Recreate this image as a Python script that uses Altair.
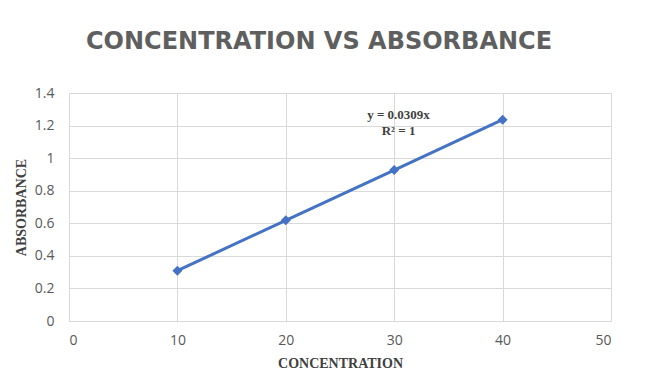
import altair as alt
import pandas as pd

concentration = [10, 20, 30, 40]
absorbance = [0.309, 0.618, 0.927, 1.236]
x_ticks = [0, 10, 20, 30, 40, 50]
y_ticks = [0, 0.2, 0.4, 0.6, 0.8, 1.0, 1.2, 1.4]
eq_lines = ["y = 0.0309x", "R² = 1"]
eq_x = [30.4, 30.4]
eq_y = [1.262, 1.165]

df = pd.DataFrame({"c": concentration, "a": absorbance})
ann = pd.DataFrame({"t": eq_lines, "c": eq_x, "a": eq_y})

blue = "#4472C4"
gray = "#595959"

x = alt.X("c:Q", scale=alt.Scale(domain=[0, 50], nice=False),
          axis=alt.Axis(values=x_ticks, title="CONCENTRATION", grid=True,
                        gridColor="#d9d9d9", domain=False, ticks=False,
                        labelFont="Open Sans", labelFontSize=14, labelColor=gray,
                        labelPadding=12, labelOverlap=False,
                        titleFont="Liberation Serif",
                        titleFontSize=14, titleFontWeight="bold", titleColor="#404040",
                        titlePadding=9))
y = alt.Y("a:Q", scale=alt.Scale(domain=[0, 1.4], nice=False),
          axis=alt.Axis(values=y_ticks, title="ABSORBANCE", grid=True, format=".1~f",
                        gridColor="#d9d9d9", domain=False, ticks=False,
                        labelFont="Open Sans", labelFontSize=14, labelColor=gray,
                        labelPadding=15, labelOverlap=False,
                        titleFont="Liberation Serif",
                        titleFontSize=14, titleFontWeight="bold", titleColor="#404040",
                        titlePadding=6))

line = alt.Chart(df).mark_line(color=blue, strokeWidth=3).encode(x=x, y=y)
pts = alt.Chart(df).mark_point(shape="diamond", filled=True, color=blue,
                               size=100, opacity=1).encode(x=x, y=y)
txt = alt.Chart(ann).mark_text(font="Liberation Serif", fontSize=13,
                               fontWeight="bold", color="#404040").encode(
    x=x, y=y, text="t:N")

chart = alt.layer(line, pts, txt).properties(
    width=542, height=228,
    padding={"left": 61, "top": 85, "right": 40, "bottom": 50},
    autosize=alt.AutoSizeParams(type="none"),
    title=alt.Title("CONCENTRATION VS ABSORBANCE", font="DejaVu Sans",
                    fontSize=24, fontWeight="bold", color="#5f5f5f",
                    anchor="middle", frame="group", offset=32, dx=-21),
).configure_view(stroke=None).configure_axis(
    labelOverlap=False
).configure(background="white")

chart.save("out.html", embed_options={"renderer": "svg", "actions": False})
